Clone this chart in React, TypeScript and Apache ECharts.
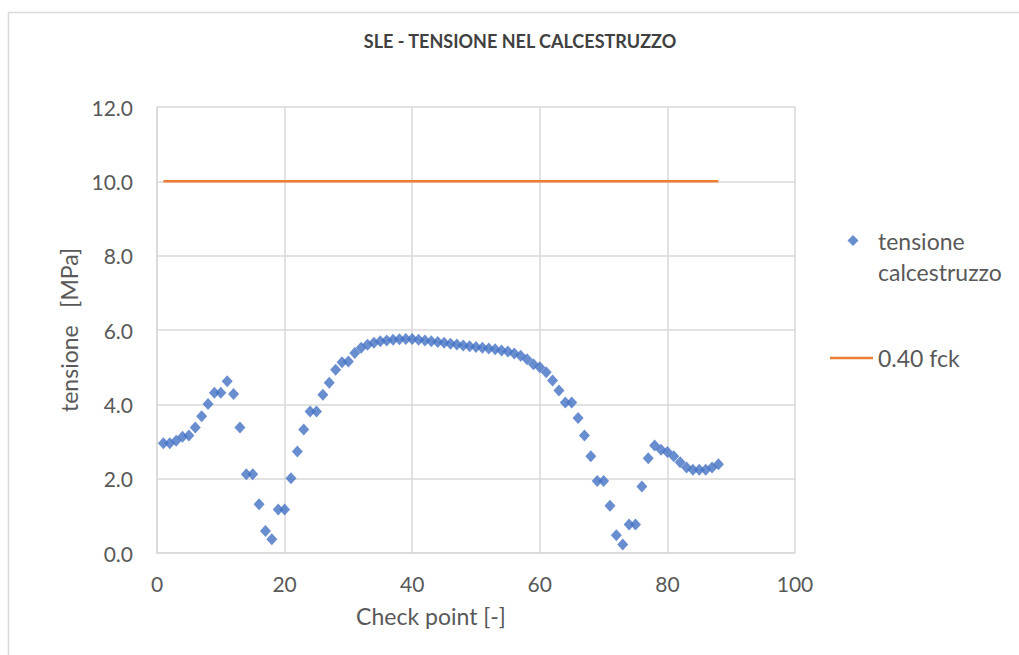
import React, { useEffect, useRef } from "react";
import * as echarts from "echarts";

const chartTitle = "SLE - TENSIONE NEL CALCESTRUZZO";
const xAxisName = "Check point [-]";
const yAxisName = "tensione   [MPa]";
const stressName = "tensione calcestruzzo";
const limitName = "0.40 fck";

const checkPoints = [
  1, 2, 3, 4, 5, 6, 7, 8, 9, 10, 11, 12, 13, 14, 15, 16, 17, 18, 19, 20,
  21, 22, 23, 24, 25, 26, 27, 28, 29, 30, 31, 32, 33, 34, 35, 36, 37, 38, 39, 40,
  41, 42, 43, 44, 45, 46, 47, 48, 49, 50, 51, 52, 53, 54, 55, 56, 57, 58, 59, 60,
  61, 62, 63, 64, 65, 66, 67, 68, 69, 70, 71, 72, 73, 74, 75, 76, 77, 78, 79, 80,
  81, 82, 83, 84, 85, 86, 87, 88,
];

const stressValues = [
  2.95, 2.95, 3.02, 3.13, 3.16, 3.38, 3.68, 4.01, 4.31, 4.31,
  4.62, 4.28, 3.38, 2.12, 2.12, 1.31, 0.59, 0.37, 1.17, 1.17,
  2.01, 2.73, 3.32, 3.81, 3.81, 4.26, 4.58, 4.93, 5.13, 5.15,
  5.38, 5.52, 5.6, 5.66, 5.7, 5.72, 5.74, 5.75, 5.76, 5.76,
  5.74, 5.72, 5.7, 5.68, 5.66, 5.63, 5.61, 5.58, 5.56, 5.54,
  5.52, 5.5, 5.48, 5.45, 5.42, 5.37, 5.31, 5.21, 5.08, 5.0,
  4.86, 4.64, 4.37, 4.05, 4.05, 3.63, 3.16, 2.6, 1.94, 1.94,
  1.27, 0.48, 0.23, 0.77, 0.77, 1.79, 2.55, 2.89, 2.78, 2.72,
  2.6, 2.44, 2.3, 2.24, 2.24, 2.24, 2.3, 2.39,
];

const limitX = [1, 88];
const limitY = [10.0, 10.0];

const xTicks = [0, 20, 40, 60, 80, 100];
const yTicks = [0, 2, 4, 6, 8, 10, 12];

const FONT = "Lato, 'Open Sans', sans-serif";
const TEXT_COLOR = "#595959";
const GRID_COLOR = "#d9d9d9";

export default function App() {
  const ref = useRef<HTMLDivElement>(null);

  useEffect(() => {
    if (!ref.current) return;
    const chart = echarts.init(ref.current, undefined, { renderer: "svg" });

    const stressData = checkPoints.map((x, i) => [x, stressValues[i]]);
    const limitData = limitX.map((x, i) => [x, limitY[i]]);

    chart.setOption({
      animation: false,
      backgroundColor: "#ffffff",
      textStyle: { fontFamily: FONT },
      title: {
        text: chartTitle,
        left: 520,
        textAlign: "center",
        top: 32,
        padding: 0,
        textStyle: {
          fontFamily: FONT,
          fontSize: 18,
          fontWeight: "bold",
          color: "#404040",
        },
      },
      graphic: [
        {
          type: "rect",
          silent: true,
          shape: { x: 8.5, y: 12.5, width: 1030, height: 680 },
          style: { fill: "none", stroke: GRID_COLOR, lineWidth: 1.5 },
          z: -10,
        },
      ],
      legend: [
        {
          data: [{ name: stressName, icon: "diamond" }],
          orient: "vertical",
          left: 847.5,
          top: 240 - 46,
          padding: 0,
          itemWidth: 11,
          itemHeight: 11,
          formatter: () => " \ntensione\ncalcestruzzo",
          textStyle: {
            fontFamily: FONT,
            fontSize: 23,
            color: TEXT_COLOR,
            lineHeight: 31,
            padding: [0, 0, 0, 14.5],
          },
        },
        {
          data: [{ name: limitName, icon: "rect" }],
          orient: "vertical",
          left: 830,
          top: 358 - 14,
          padding: 0,
          itemWidth: 43,
          itemHeight: 2.5,
          textStyle: {
            fontFamily: FONT,
            fontSize: 23,
            color: TEXT_COLOR,
            lineHeight: 28,
          },
        },
      ],
      grid: {
        left: 157,
        top: 107,
        right: 224,
        bottom: 102,
        containLabel: false,
      },
      xAxis: {
        type: "value",
        min: xTicks[0],
        max: xTicks[xTicks.length - 1],
        interval: 20,
        name: xAxisName,
        nameLocation: "middle",
        nameGap: 51,
        nameTextStyle: {
          fontFamily: FONT,
          fontSize: 23,
          color: TEXT_COLOR,
          padding: [0, 90, 0, 0],
        },
        axisLine: { show: true, lineStyle: { color: GRID_COLOR, width: 1.5 } },
        axisTick: { show: false },
        axisLabel: {
          margin: 20,
          fontFamily: FONT,
          fontSize: 21,
          color: TEXT_COLOR,
        },
        splitLine: { show: true, lineStyle: { color: GRID_COLOR, width: 1.5 } },
      },
      yAxis: {
        type: "value",
        min: yTicks[0],
        max: yTicks[yTicks.length - 1],
        interval: 2,
        name: yAxisName,
        nameLocation: "middle",
        nameGap: 75,
        nameTextStyle: { fontFamily: FONT, fontSize: 23, color: TEXT_COLOR },
        axisLine: { show: true, lineStyle: { color: GRID_COLOR, width: 1.5 } },
        axisTick: { show: false },
        axisLabel: {
          margin: 24,
          fontFamily: FONT,
          fontSize: 21,
          color: TEXT_COLOR,
          formatter: (v: number) => v.toFixed(1),
        },
        splitLine: { show: true, lineStyle: { color: GRID_COLOR, width: 1.5 } },
      },
      series: [
        {
          name: stressName,
          type: "scatter",
          data: stressData,
          symbol: "diamond",
          symbolSize: [11, 12],
          itemStyle: { color: "#4472C4" },
          z: 3,
        },
        {
          name: limitName,
          type: "line",
          data: limitData,
          symbol: "none",
          lineStyle: { color: "#ED7D31", width: 2.5 },
          itemStyle: { color: "#ED7D31" },
          z: 2,
        },
      ],
    });

    return () => chart.dispose();
  }, []);

  return (
    <div
      ref={ref}
      style={{ position: "absolute", left: 0, top: 0, width: 1019, height: 655 }}
    />
  );
}
